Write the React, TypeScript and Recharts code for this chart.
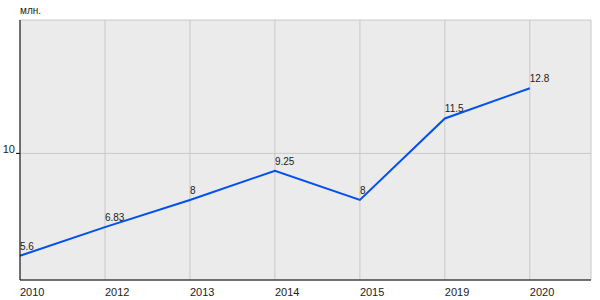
import { LineChart, Line, XAxis, YAxis, CartesianGrid, LabelList } from 'recharts';

const years = ['2010', '2012', '2013', '2014', '2015', '2019', '2020'];
const values = [5.6, 6.83, 8, 9.25, 8, 11.5, 12.8];
const yTicks = [10];

const data = years.map((year, i) => ({ idx: i, year, value: values[i] }));

const FONT = '"Liberation Sans", Arial, sans-serif';

const XTick = (props: any) => {
    const { x, y, payload } = props;
    return (
        <text x={x} y={y + 8} fontSize={11} fontFamily={FONT} fill="#222" textAnchor="start">
            {years[payload.value]}
        </text>
    );
};

const YTick = (props: any) => {
    const { x, y, payload } = props;
    return (
        <text x={x + 1} y={y + 0} fontSize={11} fontFamily={FONT} fill="#222" textAnchor="end">
            {payload.value}
        </text>
    );
};

const PointLabel = (props: any) => {
    const { x, y, value } = props;
    return (
        <text x={x} y={y - 6} fontSize={10} fontFamily={FONT} fill="#222" textAnchor="start">
            {value}
        </text>
    );
};

export default function App() {
    return (
        <div style={{ position: 'absolute', left: 0, top: 0, width: 600, height: 300, background: '#fff' }}>
            <LineChart width={600} height={300} data={data} margin={{ top: 20, right: 9, left: 0, bottom: 0 }}>
                <CartesianGrid fill="#ebebeb" stroke="#c8c8c8" vertical horizontal />
                <XAxis
                    dataKey="idx"
                    type="number"
                    domain={[0, 6.72]}
                    ticks={[0, 1, 2, 3, 4, 5, 6]}
                    height={20}
                    axisLine={{ stroke: '#000' }}
                    tickLine={false}
                    tick={<XTick />}
                />
                <YAxis
                    type="number"
                    domain={[4.56, 15.73]}
                    ticks={yTicks}
                    width={20}
                    axisLine={{ stroke: '#000' }}
                    tickLine={{ stroke: '#000' }}
                    tickSize={4}
                    tick={<YTick />}
                    label={{
                        content: () => (
                            <text x={20} y={14} fontSize={10} fontFamily={FONT} fill="#222">млн.</text>
                        ),
                    }}
                />
                <Line
                    type="linear"
                    dataKey="value"
                    stroke="#0050f0"
                    strokeWidth={2}
                    dot={false}
                    isAnimationActive={false}
                >
                    <LabelList dataKey="value" content={<PointLabel />} />
                </Line>
            </LineChart>
        </div>
    );
}
